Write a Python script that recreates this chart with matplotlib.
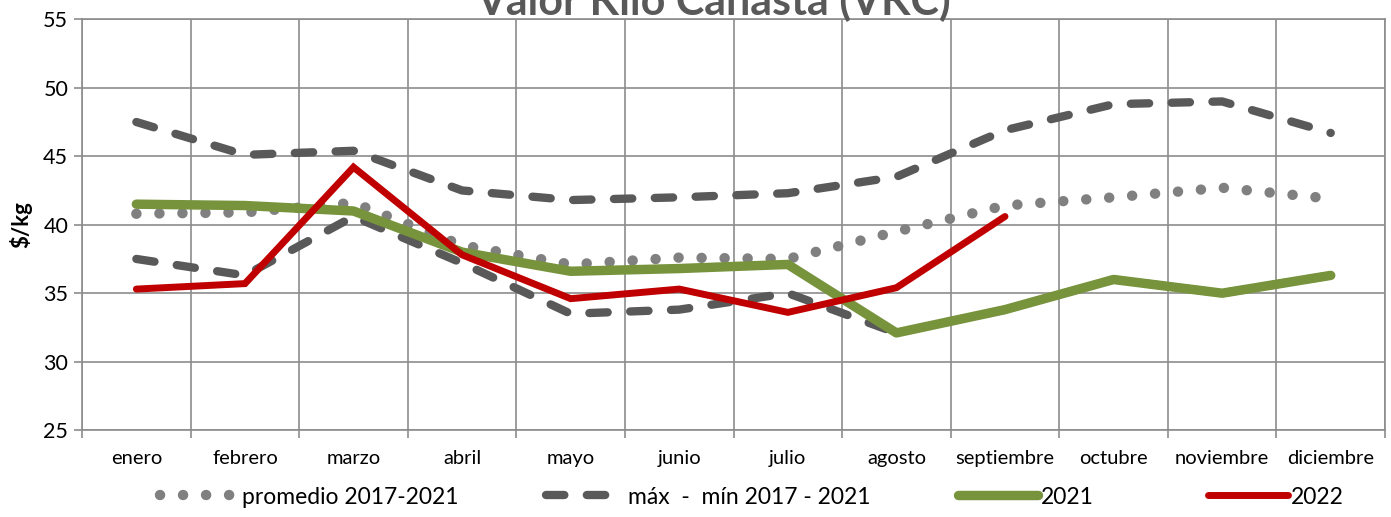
import matplotlib
matplotlib.use('Agg')
import matplotlib.pyplot as plt
import numpy as np

plt.rcParams['font.family'] = ['Lato', 'DejaVu Sans']

# datos
meses = ['enero', 'febrero', 'marzo', 'abril', 'mayo', 'junio', 'julio',
         'agosto', 'septiembre', 'octubre', 'noviembre', 'diciembre']
promedio = [40.8, 40.9, 41.6, 38.5, 37.1, 37.6, 37.5, 39.5, 41.4, 42.0, 42.7, 41.9]
maximo = [47.5, 45.1, 45.4, 42.5, 41.8, 42.0, 42.3, 43.5, 46.9, 48.8, 49.0, 46.7]
minimo = [37.5, 36.3, 40.6, 37.2, 33.5, 33.8, 35.0, 32.1, 33.8, 36.0, 35.0, 36.3]
v2021 = [41.5, 41.4, 41.0, 38.0, 36.6, 36.8, 37.1, 32.1, 33.8, 36.0, 35.0, 36.3]
v2022 = [35.3, 35.7, 44.2, 37.8, 34.6, 35.3, 33.6, 35.4, 40.6]
yticks = [25, 30, 35, 40, 45, 50, 55]

fig = plt.figure(figsize=(13.91, 5.17), dpi=100)
ax = fig.add_axes([0.059, 0.168, 0.9367, 0.7947])

x = np.arange(len(meses))
gris_grid = '#8c8c8c'

# max - min (el mínimo queda tapado por 2021 desde agosto)
l_max, = ax.plot(x, maximo, color='#595959', lw=6, linestyle=(0, (2.2, 2.7)),
                 dash_capstyle='round', zorder=3)
ax.plot(x, minimo, color='#595959', lw=6, linestyle=(0, (2.2, 2.7)),
        dash_capstyle='round', zorder=3)
# promedio
l_prom, = ax.plot(x, promedio, color='#808080', lw=7.5, linestyle=(0, (0.01, 2.2)),
                  dash_capstyle='round', zorder=3)
l_21, = ax.plot(x, v2021, color='#77933C', lw=6.8, solid_capstyle='round',
                solid_joinstyle='round', zorder=4)
l_22, = ax.plot(x[:len(v2022)], v2022, color='#C00000', lw=5, solid_capstyle='round',
                solid_joinstyle='miter', zorder=5)

ax.set_xlim(-0.5, len(meses) - 0.5)
ax.set_ylim(25, 55)
ax.set_yticks(yticks)
ax.set_yticklabels([str(v) for v in yticks], fontsize=15.5)

ax.set_xticks(np.arange(len(meses) + 1) - 0.5)
ax.set_xticklabels([])
ax.set_xticks(x, minor=True)
ax.set_xticklabels(meses, minor=True, fontsize=14.5)
ax.tick_params(axis='x', which='major', length=6, width=1.2, color=gris_grid)
ax.tick_params(axis='x', which='minor', length=0, pad=14)
ax.tick_params(axis='y', length=6, width=1.2, color=gris_grid, pad=4)

ax.grid(True, which='major', color=gris_grid, lw=1.2)
ax.set_axisbelow(True)
for s in ax.spines.values():
    s.set_color(gris_grid)
    s.set_linewidth(1.2)

fig.text(0.015, 0.565, '$/kg', rotation=90, fontsize=16, fontweight='bold',
         ha='center', va='center')
fig.text(0.513, 1 - 15 / 517, 'Valor Kilo Canasta (VKC)', fontsize=31,
         fontweight='bold', color='#595959', ha='center', va='baseline')

# leyenda: una entrada por posición, como en el original
entradas = [(l_prom, 'promedio 2017-2021', 160),
            (l_max, 'máx  -  mín 2017 - 2021', 546),
            (l_21, '2021', 958),
            (l_22, '2022', 1208)]
for linea, texto, px in entradas:
    leg = fig.legend([linea], [texto], loc='center left',
                     bbox_to_anchor=(px / 1391, 1 - 497 / 517), frameon=False,
                     fontsize=16.5, handlelength=3.5, handletextpad=0.1,
                     borderpad=0, borderaxespad=0)

fig.savefig('out.png', dpi=100, facecolor='white')
